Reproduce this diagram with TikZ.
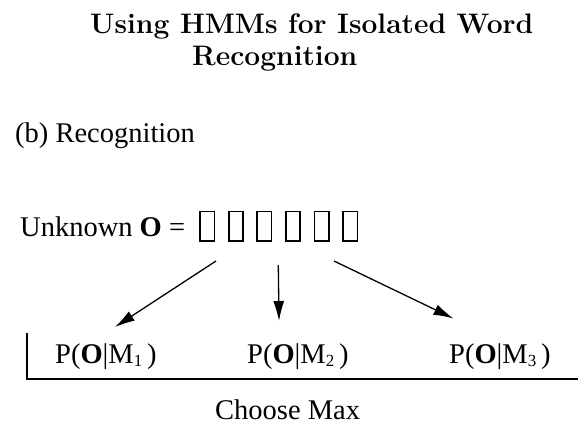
\documentclass[tikz,border=0pt]{standalone}
\usepackage{fontspec}
\newfontfamily\tnr{Liberation Serif}
\usetikzlibrary{arrows.meta}
\tikzset{
  titletxt/.style={anchor=base west, inner sep=0pt, font=\fontsize{28.2}{33}\selectfont\bfseries},
  bodytxt/.style={anchor=base west, inner sep=0pt, font=\tnr\fontsize{28.5}{33}\selectfont},
  obsbox/.style={draw, line width=1.7pt, minimum width=14.3pt, minimum height=29.3pt, inner sep=0pt},
  conn/.style={line width=1.3pt, -{Latex[length=20pt,width=11pt]}},
  frameline/.style={line width=1.8pt}
}
\begin{document}
\begin{tikzpicture}[x=1pt,y=1pt]
\useasboundingbox (0,0) rectangle (578,-424);
\node[titletxt] (t1) at (90,-33) {Using HMMs for Isolated Word};
\node[titletxt] (t2) at (192,-65) {Recognition};
\node[bodytxt] (sub) at (15,-142) {(b) Recognition};
\node[bodytxt] (unk) at (20,-236) {Unknown \textbf{O} =};
\foreach \i in {1,...,6}
  \node[obsbox] (o\i) at ({207.2+28.6*(\i-1)},-226.2) {};
\node[bodytxt] (p1) at (55,-363) {P(\textbf{O}|M\raisebox{-0.25ex}{\fontsize{17}{20}\selectfont 1}\,)};
\node[bodytxt] (p2) at (247,-363) {P(\textbf{O}|M\raisebox{-0.25ex}{\fontsize{17}{20}\selectfont 2}\,)};
\node[bodytxt] (p3) at (449,-363) {P(\textbf{O}|M\raisebox{-0.25ex}{\fontsize{17}{20}\selectfont 3}\,)};
\node[bodytxt] (cm) at (215,-419) {Choose Max};
\coordinate (s1) at (216,-261);
\coordinate (e1) at (115,-327);
\coordinate (s2) at (278.3,-265);
\coordinate (e2) at (279,-321);
\coordinate (s3) at (334,-261);
\coordinate (e3) at (453.5,-318.5);
\draw[conn] (s1) -- (e1);
\draw[conn] (s2) -- (e2);
\draw[conn] (s3) -- (e3);
\coordinate (ftop) at (26.7,-333);
\coordinate (fend) at (578,-379.3);
\draw[frameline] (ftop) |- (fend);
\end{tikzpicture}
\end{document}
